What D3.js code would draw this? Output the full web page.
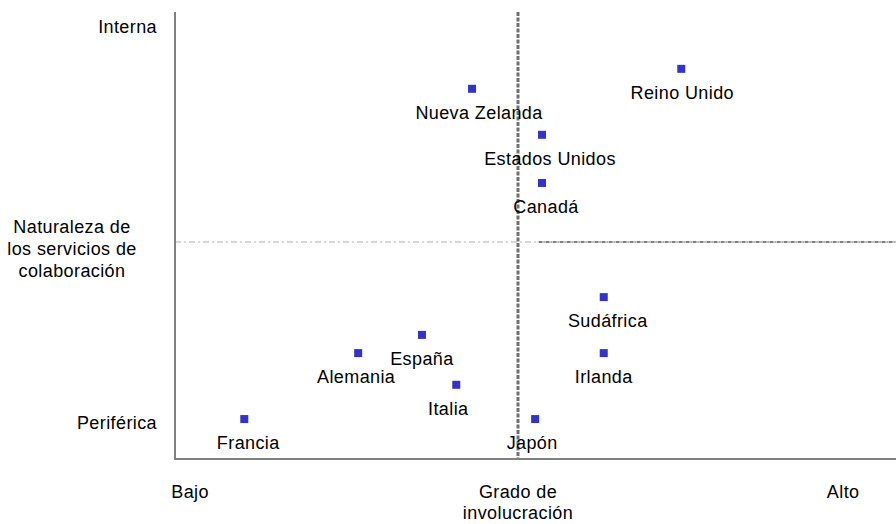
<!DOCTYPE html>
<html>
<head>
<meta charset="utf-8">
<script src="https://cdn.jsdelivr.net/npm/d3@7"></script>
<style>
  body { margin: 0; background: #fff; }
  text { font-family: "Liberation Sans", Arial, sans-serif; fill: #000; font-size: 18px; letter-spacing: 0.4px; }
</style>
</head>
<body>
<div id="viz"></div>
<script>
const width = 896;
const height = 524;
const margin = {top: 12, right: 0, bottom: 65, left: 175};
const markerColor = '#3333cc';
const axisColor = '#808080';

// Data
const countries = ['Reino Unido', 'Nueva Zelanda', 'Estados Unidos', 'Canadá', 'Sudáfrica', 'España', 'Alemania', 'Irlanda', 'Italia', 'Francia', 'Japón'];
const involvement = [7.38, 4.33, 5.35, 5.35, 6.25, 3.60, 2.67, 6.25, 4.10, 1.01, 5.25];
const nature = [8.99, 8.53, 7.47, 6.36, 3.73, 2.86, 2.44, 2.44, 1.71, 0.92, 0.92];
const yTickLabels = ['Periférica', 'Interna'];
const yTickValues = [0.83, 9.95];
const xTickLabels = ['Bajo', 'Alto'];
const xTickValues = [0.22, 9.74];
const xTitle = ['Grado de', 'involucración'];
const yTitle = ['Naturaleza de', 'los servicios de', 'colaboración'];

// small horizontal nudges so labels sit like in the original
const labelNudge = {'Reino Unido': 1, 'Nueva Zelanda': 7, 'Estados Unidos': 8, 'Canadá': 4, 'Sudáfrica': 4,
  'España': 0, 'Alemania': -2, 'Irlanda': 0, 'Italia': -8, 'Francia': 4, 'Japón': -3};

const data = countries.map((c, i) => ({name: c, x: involvement[i], y: nature[i]}));

const xScale = d3.scaleLinear().domain([0, 10]).range([margin.left, 861]);
const yScale = d3.scaleLinear().domain([0, 10]).range([height - margin.bottom, 25]);

const svg = d3.select('#viz')
  .append('svg')
    .attr('width', width)
    .attr('height', height);

// Quadrant lines
svg.append('line')
    .attr('x1', margin.left).attr('x2', xScale(5.3))
    .attr('y1', yScale(5)).attr('y2', yScale(5))
    .attr('stroke', '#b0b0b0')
    .attr('stroke-width', 1)
    .attr('stroke-dasharray', '6,3,2,3');
svg.append('line')
    .attr('x1', xScale(5.3)).attr('x2', width)
    .attr('y1', yScale(5)).attr('y2', yScale(5))
    .attr('stroke', '#808080')
    .attr('stroke-width', 2)
    .attr('stroke-dasharray', '4,1,1,1');
svg.append('line')
    .attr('x1', xScale(5)).attr('x2', xScale(5))
    .attr('y1', margin.top).attr('y2', height - margin.bottom)
    .attr('stroke', '#707070')
    .attr('stroke-width', 3)
    .attr('stroke-dasharray', '4,1.5');

// Axes
svg.append('line')
    .attr('x1', margin.left).attr('x2', margin.left)
    .attr('y1', margin.top).attr('y2', height - margin.bottom)
    .attr('stroke', axisColor).attr('stroke-width', 2);
svg.append('line')
    .attr('x1', margin.left - 1).attr('x2', width)
    .attr('y1', height - margin.bottom).attr('y2', height - margin.bottom)
    .attr('stroke', axisColor).attr('stroke-width', 2);

// Tick labels
svg.selectAll('.y-tick')
  .data(yTickLabels)
  .join('text')
    .attr('class', 'y-tick')
    .attr('x', 157)
    .attr('y', (d, i) => yScale(yTickValues[i]))
    .attr('dy', '0.35em')
    .attr('text-anchor', 'end')
    .text(d => d);

svg.selectAll('.x-tick')
  .data(xTickLabels)
  .join('text')
    .attr('class', 'x-tick')
    .attr('x', (d, i) => xScale(xTickValues[i]))
    .attr('y', 492)
    .attr('dy', '0.35em')
    .attr('text-anchor', 'middle')
    .text(d => d);

// Axis titles
svg.selectAll('.x-title')
  .data(xTitle)
  .join('text')
    .attr('class', 'x-title')
    .attr('x', xScale(5))
    .attr('y', (d, i) => 492 + i * 21)
    .attr('dy', '0.35em')
    .attr('text-anchor', 'middle')
    .text(d => d);

svg.selectAll('.y-title')
  .data(yTitle)
  .join('text')
    .attr('class', 'y-title')
    .attr('x', 72)
    .attr('y', (d, i) => 227 + i * 22)
    .attr('dy', '0.35em')
    .attr('text-anchor', 'middle')
    .text(d => d);

// Points
const size = 8;
svg.append('g')
  .selectAll('rect')
  .data(data)
  .join('rect')
    .attr('x', d => xScale(d.x) - size / 2)
    .attr('y', d => yScale(d.y) - size / 2)
    .attr('width', size)
    .attr('height', size)
    .attr('fill', markerColor);

svg.append('g')
  .selectAll('text')
  .data(data)
  .join('text')
    .attr('x', d => xScale(d.x) + labelNudge[d.name])
    .attr('y', d => yScale(d.y) + 24)
    .attr('dy', '0.35em')
    .attr('text-anchor', 'middle')
    .text(d => d.name);
</script>
</body>
</html>
